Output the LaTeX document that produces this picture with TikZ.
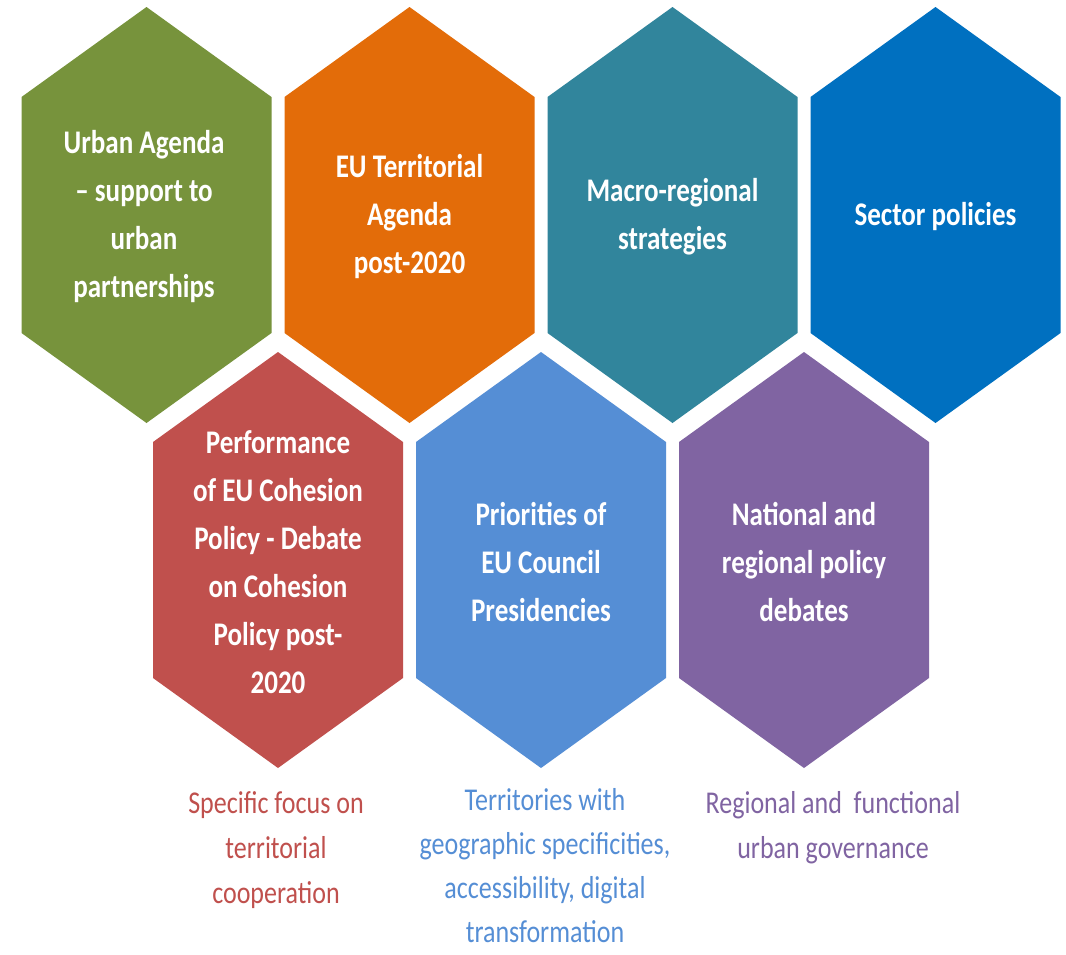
\documentclass[tikz,border=0pt]{standalone}
\usepackage{fontspec}
\setmainfont{Carlito}[FakeStretch=0.82]
\definecolor{cgreen}{HTML}{77933C}
\definecolor{corange}{HTML}{E36C09}
\definecolor{cteal}{HTML}{31859C}
\definecolor{cblue}{HTML}{0070C0}
\definecolor{cred}{HTML}{C0504D}
\definecolor{clblue}{HTML}{558ED5}
\definecolor{cpurple}{HTML}{8064A2}
\newcommand\hexshape[3]{\fill[#3] (#1,#2) ++(0,-208) -- ++(125,90) -- ++(0,236) -- ++(-125,90) -- ++(-125,-90) -- ++(0,-236) -- cycle;}
\begin{document}
\begin{tikzpicture}[x=0.75pt,y=-0.75pt,
  hextext/.style={text=white,inner sep=0pt,align=center,font=\bfseries\fontsize{24.75}{36}\selectfont},
  lbl/.style={inner sep=0pt,align=center,font=\fontsize{23.8}{33.75}\selectfont}]
\useasboundingbox[fill=white] (0,0) rectangle (1066,954);
% top row
\hexshape{146.5}{215}{cgreen}
\hexshape{409.5}{215}{corange}
\hexshape{672.5}{215}{cteal}
\hexshape{935.5}{215}{cblue}
% bottom row
\hexshape{278}{560}{cred}
\hexshape{541}{560}{clblue}
\hexshape{804}{560}{cpurple}
% texts
\node[hextext] (urban) at (144,217) {Urban Agenda\\– support to\\urban\\partnerships};
\node[hextext] (terr) at (409.5,217) {EU Territorial\\Agenda\\post-2020};
\node[hextext] (macro) at (672.5,217) {Macro-regional\\strategies};
\node[hextext] (sector) at (935.5,217) {Sector policies};
\node[hextext] (perf) at (278,562) {Performance\\of EU Cohesion\\Policy - Debate\\on Cohesion\\Policy post-\\2020};
\node[hextext] (prio) at (541,562) {Priorities of\\EU Council\\Presidencies};
\node[hextext] (natl) at (804,562) {National and\\regional policy\\debates};
% labels
\node[lbl,text=cred] (focus) at (276,850) {Specific focus on\\territorial\\cooperation};
\node[lbl,text=clblue,font=\fontsize{23.8}{33}\selectfont] (geo) at (545,866) {Territories with\\geographic specificities,\\accessibility, digital\\transformation};
\node[lbl,text=cpurple] (gov) at (833,827.5) {Regional and~~functional\\urban governance};
\end{tikzpicture}
\end{document}
